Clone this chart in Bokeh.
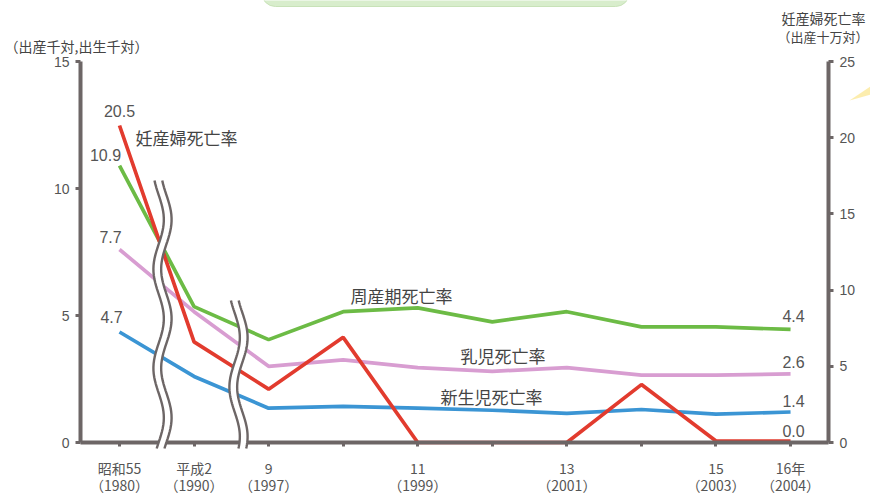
import numpy as np
from bokeh.plotting import figure
from bokeh.models import Range1d, LinearAxis, FixedTicker, Label
from bokeh.embed import file_html
from bokeh.resources import INLINE

# ---- data ----
x_idx = list(range(10))
tick_labels = ["昭和55\n（1980）", "平成2\n（1990）", "9\n（1997）", "", "11\n（1999）", "",
               "13\n（2001）", "", "15\n（2003）", "16年\n（2004）"]
perinatal = [10.9, 5.35, 4.05, 5.15, 5.3, 4.75, 5.15, 4.55, 4.55, 4.45]   # 周産期死亡率 (left)
infant = [7.6, 5.15, 3.0, 3.25, 2.95, 2.8, 2.95, 2.65, 2.65, 2.7]        # 乳児死亡率 (left)
neonatal = [4.35, 2.6, 1.35, 1.42, 1.35, 1.27, 1.15, 1.3, 1.12, 1.2]      # 新生児死亡率 (left)
maternal = [20.8, 6.6, 3.5, 6.9, 0.0, 0.0, 0.0, 3.8, 0.1, 0.1]            # 妊産婦死亡率 (right)
start_labels = ["10.9", "7.7", "4.7", "20.5"]
end_labels = ["4.4", "2.6", "1.4", "0.0"]
left_ticks = [0, 5, 10, 15]
right_ticks = [0, 5, 10, 15, 20, 25]
LEFT_MAX, RIGHT_MAX = 15, 25

# ---- layout geometry (pixels) ----
W, H = 870, 495
X0_PX, DX = 119.0, 74.56      # pixel of first category, pixels per category
Y0_PX, DY = 442.0, 25.4       # pixel of value 0, pixels per left-axis unit
AX_L_PX, AX_R_PX = 80.0, 828.0

def px2x(px):
    return (px - X0_PX) / DX

def py2y(py):
    return (Y0_PX - py) / DY

RSCALE = RIGHT_MAX / LEFT_MAX

C_GREEN = "#6cbb45"
C_PINK = "#d89dd1"
C_BLUE = "#3b95d4"
C_RED = "#e23b2e"
AX = "#6d6666"
TXT = "#444444"
NUM = "#555555"
JP = "Noto Sans CJK JP"
LAT = "Liberation Sans"

p = figure(width=W, height=H, output_backend="svg", toolbar_location=None,
           x_range=Range1d(px2x(0), px2x(W)), y_range=Range1d(py2y(H), py2y(0)),
           x_axis_location=None, y_axis_location=None,
           min_border_left=0, min_border_right=0, min_border_top=0, min_border_bottom=0)
p.extra_y_ranges = {"right": Range1d(py2y(H) * RSCALE, py2y(0) * RSCALE)}
p.grid.visible = False
p.outline_line_color = None
p.background_fill_color = "white"
p.border_fill_color = "white"

def style_axis(ax):
    ax.axis_line_color = AX
    ax.axis_line_width = 4
    ax.major_tick_line_color = AX
    ax.major_tick_line_width = 3
    ax.major_tick_out = 5
    ax.major_tick_in = 0
    ax.minor_tick_line_color = None
    ax.major_label_text_color = NUM
    ax.major_label_text_font = LAT
    ax.major_label_text_font_size = "14px"

xa = LinearAxis(fixed_location=0, bounds=(px2x(AX_L_PX), px2x(AX_R_PX)),
                ticker=FixedTicker(ticks=x_idx))
style_axis(xa)
xa.major_label_overrides = {i: t for i, t in zip(x_idx, tick_labels)}
xa.major_label_text_font = JP
xa.major_label_text_font_size = "14px"
xa.major_label_text_line_height = 0.88
xa.major_label_standoff = 11
xa.major_tick_out = 4
p.add_layout(xa, "below")

ya = LinearAxis(fixed_location=px2x(AX_L_PX), bounds=(0, LEFT_MAX),
                ticker=FixedTicker(ticks=left_ticks))
style_axis(ya)
ya.major_label_standoff = 6
p.add_layout(ya, "left")

ra = LinearAxis(y_range_name="right", fixed_location=px2x(AX_R_PX), bounds=(0, RIGHT_MAX),
                ticker=FixedTicker(ticks=right_ticks))
style_axis(ra)
ra.major_label_standoff = 6
p.add_layout(ra, "right")

# ---- lines ----
lw = 3.7
p.line(x_idx, perinatal, color=C_GREEN, line_width=lw)
p.line(x_idx, infant, color=C_PINK, line_width=lw)
p.line(x_idx, neonatal, color=C_BLUE, line_width=lw)
p.line(x_idx, maternal, color=C_RED, line_width=lw, y_range_name="right")

# ---- axis break marks (wavy double lines) ----
for xc, ytop, ph in [(px2x(162), py2y(180), 0.0), (px2x(238), py2y(300), 1.2)]:
    ys = np.linspace(py2y(448), ytop, 80)
    xs = xc + 0.07 * np.sin(2 * np.pi * ys / 3.9 + ph)
    r = p.line(xs, ys, color="white", line_width=8)
    r.level = "overlay"
    for d in (-0.052, 0.052):
        r = p.line(xs + d, ys, color=AX, line_width=2.4)
        r.level = "overlay"

# ---- faint yellow ray at the right edge (decoration) ----
p.patch([px2x(849), px2x(870), px2x(870)], [py2y(100), py2y(86), py2y(94)],
        fill_color="#fbe99a", line_color=None, fill_alpha=0.8)

# ---- labels ----
def lab(x, y, text, font=LAT, size="16px", color=NUM, align="center", base="middle",
        xo=0, yo=0, rng="default"):
    p.add_layout(Label(x=x, y=y, text=text, text_font=font, text_font_size=size,
                       text_color=color, text_align=align, text_baseline=base,
                       x_offset=xo, y_offset=yo, y_range_name=rng))

# start values
lab(0, perinatal[0], start_labels[0], xo=-14, yo=11)
lab(0, infant[0], start_labels[1], xo=-9, yo=12)
lab(0, neonatal[0], start_labels[2], xo=-8, yo=15)
lab(0, maternal[0], start_labels[3], xo=0, yo=15, rng="right")
# end values
lab(9, perinatal[-1], end_labels[0], xo=3, yo=13)
lab(9, infant[-1], end_labels[1], xo=3, yo=12)
lab(9, neonatal[-1], end_labels[2], xo=3, yo=11)
lab(9, maternal[-1], end_labels[3], xo=3, yo=10, rng="right")

# series names
lab(px2x(135), py2y(137), "妊産婦死亡率", font=JP, size="17px", color=TXT, align="left")
lab(px2x(350), py2y(295), "周産期死亡率", font=JP, size="17px", color=TXT, align="left")
lab(px2x(460), py2y(355), "乳児死亡率", font=JP, size="17px", color=TXT, align="left")
lab(px2x(440), py2y(396), "新生児死亡率", font=JP, size="17px", color=TXT, align="left")

# axis titles
lab(px2x(4), py2y(45), "（出産千対,出生千対）", font=JP, size="14px", color=TXT, align="left")
lab(px2x(781), py2y(17), "妊産婦死亡率", font=JP, size="14px", color=TXT, align="left")
lab(px2x(777), py2y(36), "（出産十万対）", font=JP, size="13px", color=TXT, align="left")

# top banner (cut off at the top edge)
p.add_layout(Label(x=px2x(445), y=py2y(6), text="\u3000" * 22, text_font=JP, text_font_size="16px",
                   text_align="center", text_baseline="bottom",
                   background_fill_color="#d8edcc", border_line_color="#c8e2b8",
                   border_radius=14, padding=8))

open("out.html", "w").write(file_html(p, INLINE))
